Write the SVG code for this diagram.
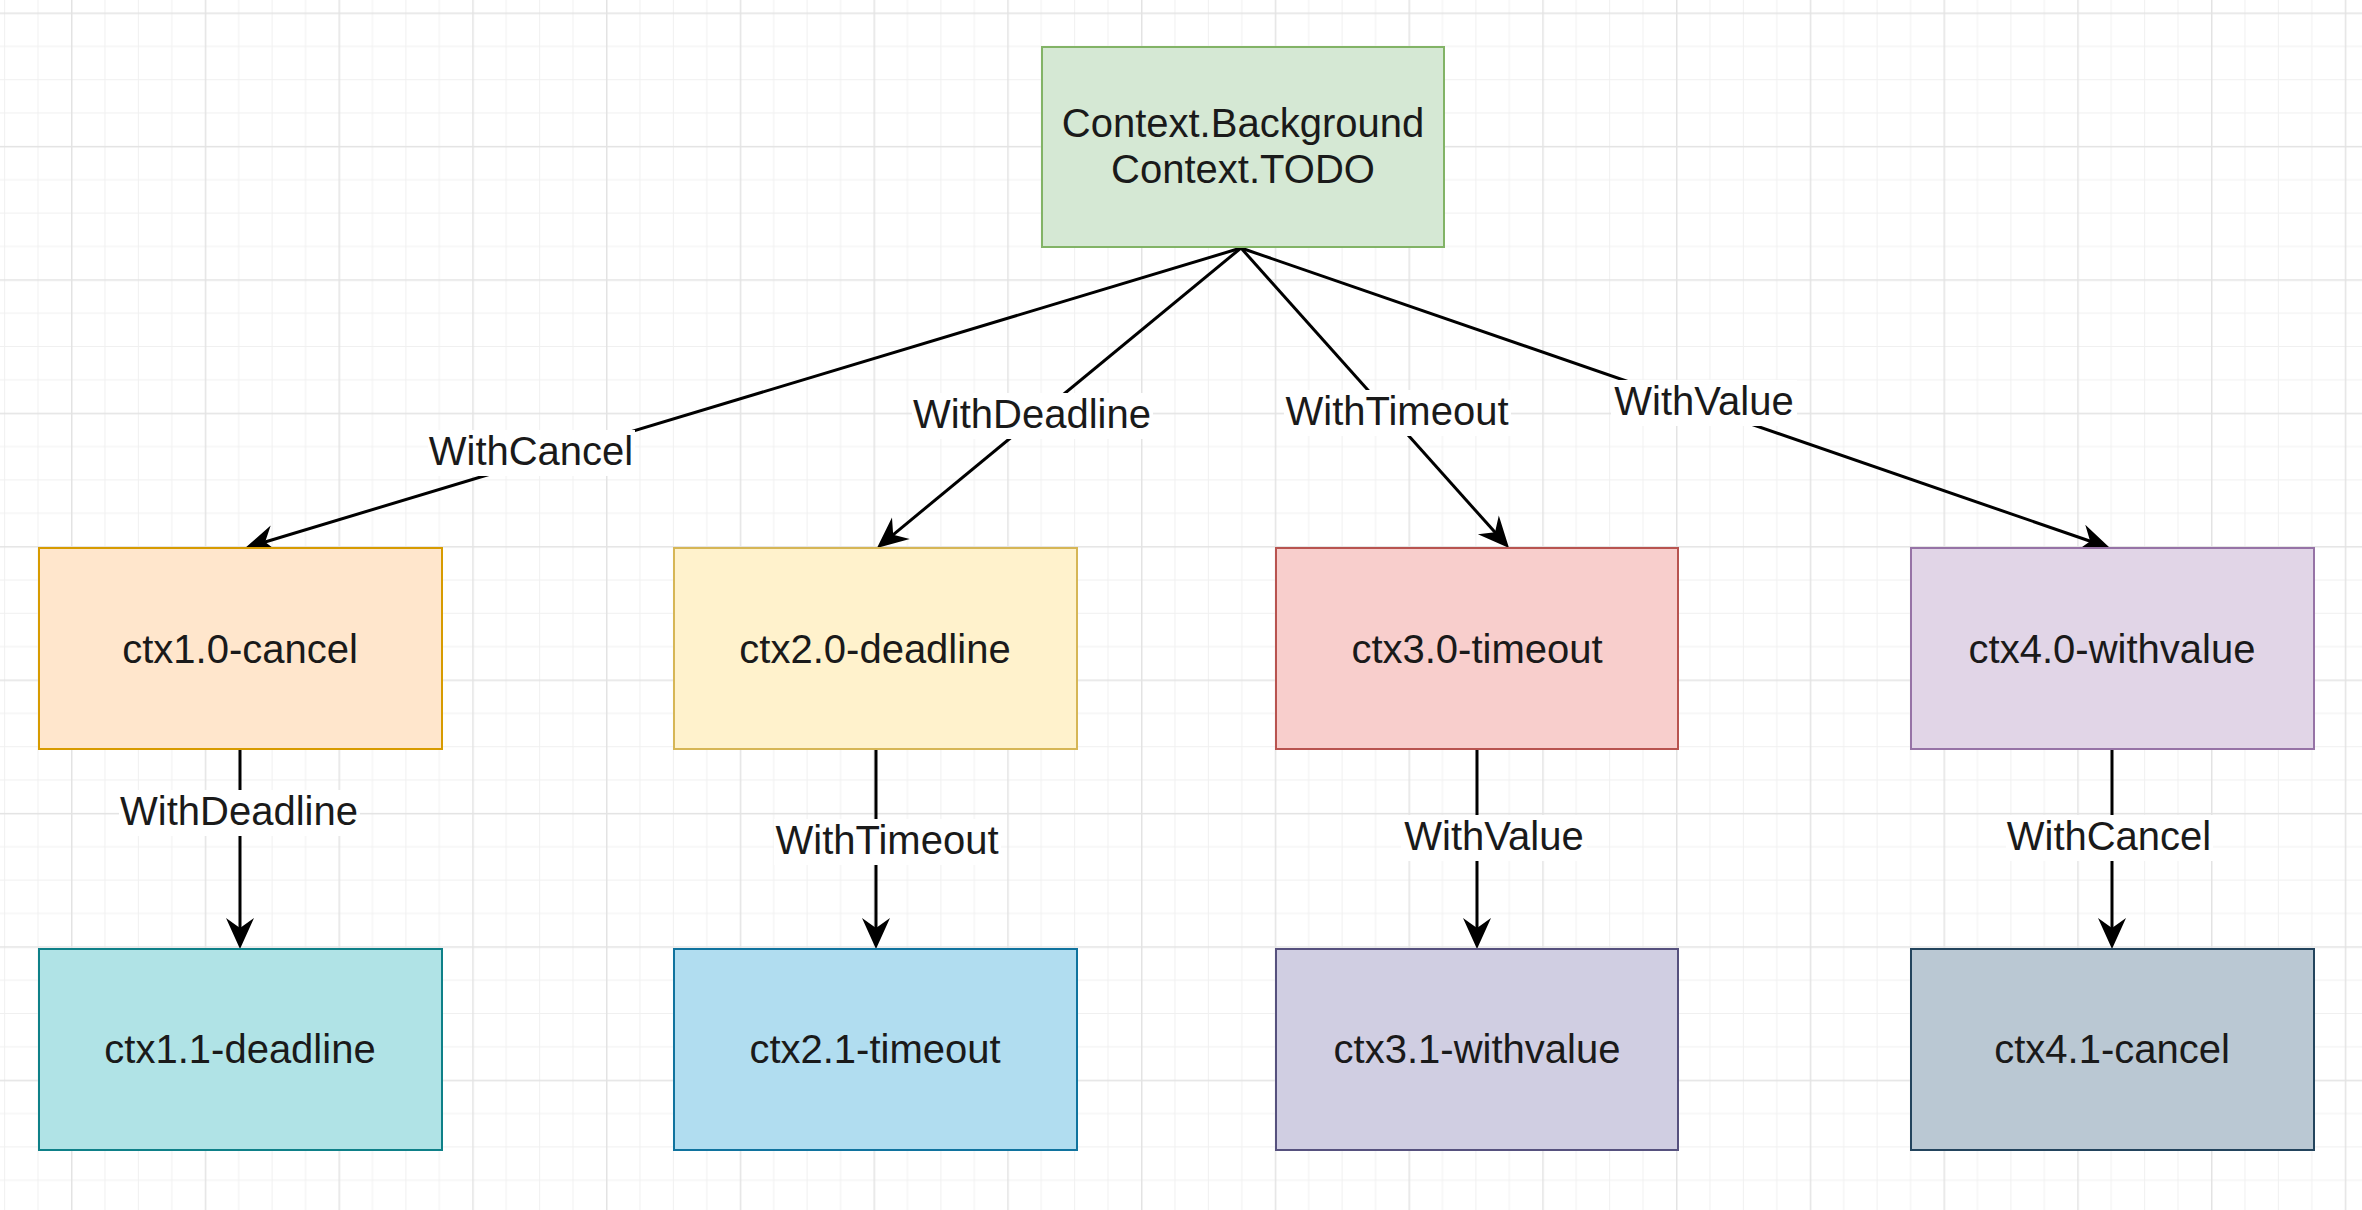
<svg xmlns="http://www.w3.org/2000/svg" width="2362" height="1210" viewBox="0 0 2362 1210">
  <style>
    .lbl { font-family: "Liberation Sans", Arial, Helvetica, sans-serif; font-size: 40px; fill: #1a1a1a; text-anchor: middle; }
    .box { stroke-width: 2; }
    .edge { fill: none; stroke: #000; stroke-width: 3; marker-end: url(#arr); }
    .lblbg { fill: #ffffff; }
  </style>
  <defs>
    <pattern id="grid" patternUnits="userSpaceOnUse" x="71" y="12.5" width="133.75" height="133.4">
      <rect x="33.4" y="0" width="1" height="133.4" fill="#f0f0f0"/>
      <rect x="66.9" y="0" width="1" height="133.4" fill="#f0f0f0"/>
      <rect x="100.3" y="0" width="1" height="133.4" fill="#f0f0f0"/>
      <rect x="0" y="33.4" width="133.75" height="1" fill="#f0f0f0"/>
      <rect x="0" y="66.7" width="133.75" height="1" fill="#f0f0f0"/>
      <rect x="0" y="100" width="133.75" height="1" fill="#f0f0f0"/>
      <rect x="0" y="0" width="1.5" height="133.4" fill="#e3e3e3"/>
      <rect x="0" y="0" width="133.75" height="1.5" fill="#e3e3e3"/>
    </pattern>
    <marker id="arr" markerUnits="userSpaceOnUse" viewBox="-32 -15 34 30" refX="-20" refY="0" markerWidth="34" markerHeight="30" orient="auto">
      <path d="M0,0 L-31,-14 L-21,0 L-31,14 Z" fill="#000"/>
    </marker>
  </defs>

  <rect x="0" y="0" width="2362" height="1210" fill="#ffffff"/>
  <rect x="0" y="0" width="2362" height="1210" fill="url(#grid)"/>

  <g id="connectors">
    <path class="edge" d="M1241,248 L264.2,542.2"/>
    <path class="edge" d="M1241,248 L892.4,535.3"/>
    <path class="edge" d="M1241,248 L1495.7,533.1"/>
    <path class="edge" d="M1241,248 L2091.1,541.5"/>
    <path class="edge" d="M240,749 L240,929"/>
    <path class="edge" d="M876,749 L876,929"/>
    <path class="edge" d="M1477,749 L1477,929"/>
    <path class="edge" d="M2112,749 L2112,929"/>

    <g id="label-withcancel-top">
      <rect class="lblbg" x="428" y="430" width="207" height="46"/>
      <text class="lbl" x="531" y="465">WithCancel</text>
    </g>
    <g id="label-withdeadline-top">
      <rect class="lblbg" x="912" y="393" width="241" height="46"/>
      <text class="lbl" x="1032" y="428">WithDeadline</text>
    </g>
    <g id="label-withtimeout-top">
      <rect class="lblbg" x="1284" y="390" width="227" height="46"/>
      <text class="lbl" x="1397" y="425">WithTimeout</text>
    </g>
    <g id="label-withvalue-top">
      <rect class="lblbg" x="1611" y="380" width="186" height="46"/>
      <text class="lbl" x="1704" y="415">WithValue</text>
    </g>
    <g id="label-withdeadline-bottom">
      <rect class="lblbg" x="119" y="790" width="241" height="46"/>
      <text class="lbl" x="239" y="825">WithDeadline</text>
    </g>
    <g id="label-withtimeout-bottom">
      <rect class="lblbg" x="774" y="819" width="227" height="46"/>
      <text class="lbl" x="887" y="854">WithTimeout</text>
    </g>
    <g id="label-withvalue-bottom">
      <rect class="lblbg" x="1401" y="815" width="186" height="46"/>
      <text class="lbl" x="1494" y="850">WithValue</text>
    </g>
    <g id="label-withcancel-bottom">
      <rect class="lblbg" x="2006" y="815" width="207" height="46"/>
      <text class="lbl" x="2109" y="850">WithCancel</text>
    </g>
  </g>

  <g id="node-root">
    <rect class="box" x="1042" y="47" width="402" height="200" fill="#d5e8d4" stroke="#82b366"/>
    <text class="lbl" x="1243" y="137">Context.Background</text>
    <text class="lbl" x="1243" y="183">Context.TODO</text>
  </g>

  <g id="node-ctx1-0">
    <rect class="box" x="39" y="548" width="403" height="201" fill="#ffe6cc" stroke="#d79b00"/>
    <text class="lbl" x="240" y="663">ctx1.0-cancel</text>
  </g>
  <g id="node-ctx2-0">
    <rect class="box" x="674" y="548" width="403" height="201" fill="#fff2cc" stroke="#d6b656"/>
    <text class="lbl" x="875" y="663">ctx2.0-deadline</text>
  </g>
  <g id="node-ctx3-0">
    <rect class="box" x="1276" y="548" width="402" height="201" fill="#f8cecc" stroke="#b85450"/>
    <text class="lbl" x="1477" y="663">ctx3.0-timeout</text>
  </g>
  <g id="node-ctx4-0">
    <rect class="box" x="1911" y="548" width="403" height="201" fill="#e1d5e7" stroke="#9673a6"/>
    <text class="lbl" x="2112" y="663">ctx4.0-withvalue</text>
  </g>

  <g id="node-ctx1-1">
    <rect class="box" x="39" y="949" width="403" height="201" fill="#b0e3e6" stroke="#0e8088"/>
    <text class="lbl" x="240" y="1063">ctx1.1-deadline</text>
  </g>
  <g id="node-ctx2-1">
    <rect class="box" x="674" y="949" width="403" height="201" fill="#b1ddf0" stroke="#10739e"/>
    <text class="lbl" x="875" y="1063">ctx2.1-timeout</text>
  </g>
  <g id="node-ctx3-1">
    <rect class="box" x="1276" y="949" width="402" height="201" fill="#d0cee2" stroke="#56517e"/>
    <text class="lbl" x="1477" y="1063">ctx3.1-withvalue</text>
  </g>
  <g id="node-ctx4-1">
    <rect class="box" x="1911" y="949" width="403" height="201" fill="#bac8d3" stroke="#23445d"/>
    <text class="lbl" x="2112" y="1063">ctx4.1-cancel</text>
  </g>
</svg>
